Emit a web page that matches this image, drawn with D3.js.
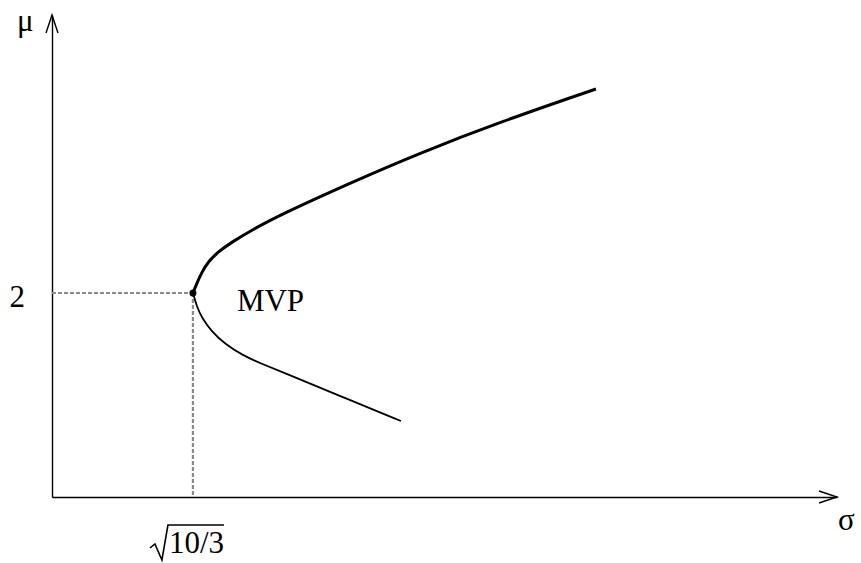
<!DOCTYPE html>
<html>
<head>
<meta charset="utf-8">
<script src="https://cdn.jsdelivr.net/npm/d3@7"></script>
<style>
  body { margin: 0; background: #fff; }
</style>
</head>
<body>
<svg width="861" height="563"></svg>
<script>
// frontier (sigma, mu)
var upperSigma = [1.826, 1.878, 1.943, 2.021, 2.150, 2.332, 2.591, 2.953, 3.860, 4.767, 5.803, 7.047],
    upperMu    = [2.0, 2.098, 2.206, 2.304, 2.402, 2.5, 2.618, 2.765, 3.078, 3.373, 3.676, 4.0],
    lowerSigma = [1.826, 1.878, 1.943, 2.073, 2.241, 2.461, 2.720, 3.018, 3.731, 4.521],
    lowerMu    = [2.0, 1.863, 1.755, 1.618, 1.5, 1.392, 1.304, 1.216, 0.990, 0.745],
    mvpSigma = Math.sqrt(10 / 3),
    mvpMu = 2,
    muTicks = [2];

var serif = "'Liberation Serif', 'Times New Roman', serif";

var svg = d3.select("svg"),
    x = d3.scaleLinear().domain([0, 10.17]).range([52, 837]),
    y = d3.scaleLinear().domain([0, 4.725]).range([497, 15]);

var upper = upperSigma.map(function(s, i) { return [s, upperMu[i]]; }),
    lower = lowerSigma.map(function(s, i) { return [s, lowerMu[i]]; });

var line = d3.line()
    .x(function(d) { return x(d[0]); })
    .y(function(d) { return y(d[1]); })
    .curve(d3.curveBasis);

// axes
svg.append("g")
    .attr("transform", "translate(0," + y(0) + ")")
    .call(d3.axisBottom(x).tickValues([]).tickSizeOuter(0));

var yAxis = svg.append("g")
    .attr("transform", "translate(" + x(0) + ",0)")
    .call(d3.axisLeft(y).tickValues(muTicks).tickSize(0).tickSizeOuter(0).tickFormat(d3.format("d")));

svg.selectAll(".domain").attr("stroke", "#000").attr("stroke-width", 1.4);
yAxis.attr("font-family", serif).attr("font-size", 31);
yAxis.selectAll(".tick text")
    .attr("x", -27)
    .attr("dy", "0.45em")
    .attr("fill", "#000");

// arrow heads
svg.append("path")
    .attr("d", "M" + (x.range()[1] - 18) + "," + (y(0) - 6) + "L" + x.range()[1] + "," + y(0) + "L" + (x.range()[1] - 18) + "," + (y(0) + 6))
    .attr("fill", "none").attr("stroke", "#000").attr("stroke-width", 1.4);
svg.append("path")
    .attr("d", "M" + (x(0) - 6) + "," + (y.range()[1] + 18) + "L" + x(0) + "," + y.range()[1] + "L" + (x(0) + 6) + "," + (y.range()[1] + 18))
    .attr("fill", "none").attr("stroke", "#000").attr("stroke-width", 1.4);

// dashed guides
svg.append("line")
    .attr("x1", x(0)).attr("x2", x(mvpSigma))
    .attr("y1", y(mvpMu)).attr("y2", y(mvpMu))
    .attr("stroke", "#8a8a8a").attr("stroke-width", 2.2).attr("stroke-dasharray", "4,2");
svg.append("line")
    .attr("x1", x(mvpSigma)).attr("x2", x(mvpSigma))
    .attr("y1", y(mvpMu)).attr("y2", y(0))
    .attr("stroke", "#8a8a8a").attr("stroke-width", 2.2).attr("stroke-dasharray", "4,2");

// frontier
svg.append("path").datum(upper)
    .attr("d", line).attr("fill", "none").attr("stroke", "#000").attr("stroke-width", 3);
svg.append("path").datum(lower)
    .attr("d", line).attr("fill", "none").attr("stroke", "#000").attr("stroke-width", 1.8);

svg.append("circle")
    .attr("cx", x(mvpSigma)).attr("cy", y(mvpMu)).attr("r", 3.5).attr("fill", "#000");

// labels
function label(px, py, str) {
    return svg.append("text").attr("x", px).attr("y", py)
        .attr("font-family", serif).attr("font-size", 31).attr("fill", "#000").text(str);
}
label(x(mvpSigma) + 44, y(mvpMu) + 18, "MVP");
label(17, 31, "μ");
label(838, 530, "σ");

// sqrt(10/3) under the x axis
var sx = x(mvpSigma);
svg.append("path")
    .attr("d", "M" + (sx - 43) + "," + 548 + "L" + (sx - 38) + "," + 544 + "L" + (sx - 31) + "," + 560 +
               "L" + (sx - 25) + "," + 525 + "L" + (sx + 31) + "," + 525)
    .attr("fill", "none").attr("stroke", "#000").attr("stroke-width", 1.6);
label(sx - 24, 553, "10/3");
</script>
</body>
</html>
